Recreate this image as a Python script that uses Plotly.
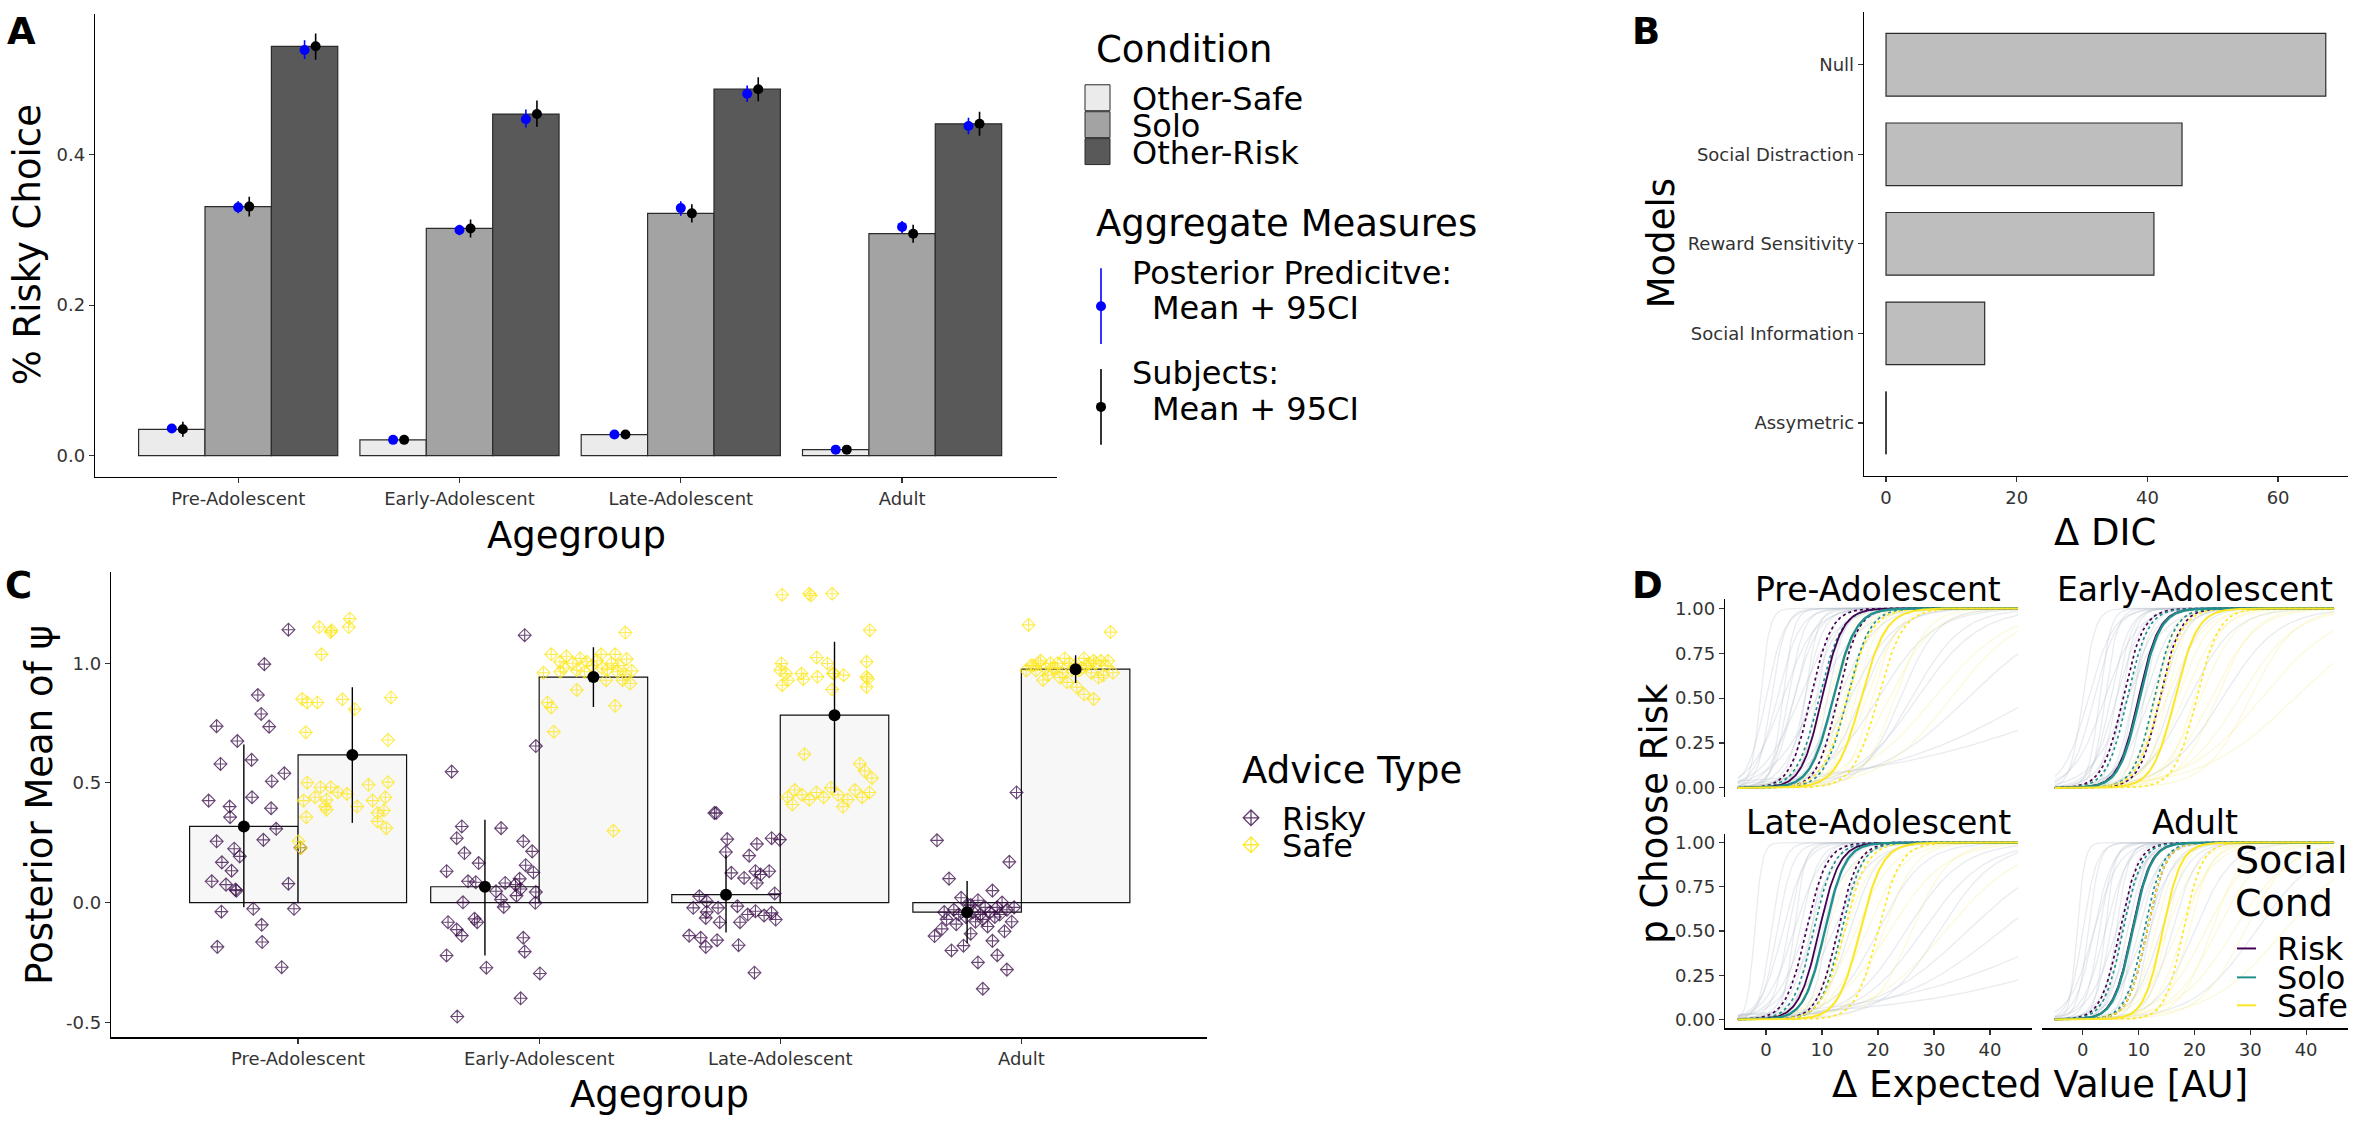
import numpy as np
import plotly.graph_objects as go

W, H = 2356, 1121
FONT = "DejaVu Sans"

# ---------------- Panel A data ----------------
age_groups = ["Pre-Adolescent", "Early-Adolescent", "Late-Adolescent", "Adult"]
conditions = ["Other-Safe", "Solo", "Other-Risk"]
cond_colors = ["#EBEBEB", "#A3A3A3", "#595959"]

bar_other_safe = [0.035, 0.021, 0.028, 0.008]
bar_solo = [0.331, 0.302, 0.322, 0.295]
bar_other_risk = [0.544, 0.454, 0.487, 0.441]

pp_safe_mean = [0.036, 0.021, 0.028, 0.008]
pp_safe_lo = [0.032, 0.018, 0.025, 0.006]
pp_safe_hi = [0.040, 0.024, 0.031, 0.010]
pp_solo_mean = [0.330, 0.300, 0.329, 0.304]
pp_solo_lo = [0.322, 0.293, 0.319, 0.296]
pp_solo_hi = [0.338, 0.307, 0.338, 0.312]
pp_risk_mean = [0.539, 0.447, 0.481, 0.438]
pp_risk_lo = [0.527, 0.436, 0.470, 0.427]
pp_risk_hi = [0.552, 0.460, 0.492, 0.449]

subj_safe_mean = [0.035, 0.021, 0.028, 0.008]
subj_safe_lo = [0.025, 0.017, 0.024, 0.005]
subj_safe_hi = [0.045, 0.025, 0.032, 0.011]
subj_solo_mean = [0.331, 0.302, 0.322, 0.295]
subj_solo_lo = [0.318, 0.290, 0.310, 0.283]
subj_solo_hi = [0.344, 0.314, 0.334, 0.307]
subj_risk_mean = [0.544, 0.454, 0.487, 0.441]
subj_risk_lo = [0.526, 0.437, 0.471, 0.425]
subj_risk_hi = [0.561, 0.472, 0.503, 0.457]

# ---------------- Panel B data ----------------
models = ["Null", "Social Distraction", "Reward Sensitivity", "Social Information", "Assymetric"]
delta_dic = [67.3, 45.3, 41.0, 15.1, 0.0]

# ---------------- Panel C data ----------------
psi_risky_mean = [0.318, 0.066, 0.033, -0.040]
psi_risky_lo = [-0.02, -0.221, -0.125, -0.170]
psi_risky_hi = [0.66, 0.346, 0.200, 0.090]
psi_safe_mean = [0.617, 0.942, 0.783, 0.975]
psi_safe_lo = [0.333, 0.817, 0.460, 0.917]
psi_safe_hi = [0.900, 1.067, 1.090, 1.033]

pre_risky_jit = [-0.04, -0.14, -0.167, -0.153, -0.12, -0.338, -0.252, -0.322, -0.371, -0.284, -0.282, -0.193, -0.191, -0.109, -0.112, -0.057, -0.091, -0.338, -0.265, -0.242, -0.316, -0.276, -0.358, -0.299, -0.26, -0.256, -0.144, 0.01, -0.04, -0.318, -0.186, -0.017, -0.151, -0.149, -0.335, -0.068]
pre_risky_val = [1.14, 0.996, 0.867, 0.788, 0.735, 0.737, 0.675, 0.579, 0.426, 0.401, 0.357, 0.596, 0.44, 0.507, 0.394, 0.54, 0.308, 0.256, 0.225, 0.193, 0.168, 0.133, 0.089, 0.075, 0.054, 0.05, 0.262, 0.229, 0.079, -0.038, -0.026, -0.026, -0.093, -0.165, -0.185, -0.27]
pre_safe_jit = [0.087, 0.139, 0.135, 0.214, 0.21, 0.097, 0.017, 0.038, 0.08, 0.184, 0.235, 0.385, 0.032, 0.373, 0.038, 0.093, 0.135, 0.165, 0.203, 0.292, 0.373, 0.023, 0.07, 0.118, 0.112, 0.118, 0.245, 0.309, 0.362, 0.356, 0.33, 0.33, 0.366, 0.034, 0.002, 0.012]
pre_safe_val = [1.151, 1.137, 1.13, 1.186, 1.151, 1.037, 0.85, 0.836, 0.836, 0.849, 0.808, 0.857, 0.711, 0.679, 0.501, 0.482, 0.482, 0.461, 0.454, 0.492, 0.503, 0.426, 0.44, 0.429, 0.401, 0.388, 0.401, 0.426, 0.44, 0.385, 0.374, 0.339, 0.311, 0.357, 0.256, 0.228]

early_risky_jit = [-0.06, -0.014, -0.363, -0.321, -0.342, -0.31, -0.251, -0.384, -0.158, -0.066, -0.029, -0.056, -0.024, -0.081, -0.295, -0.263, -0.141, -0.179, -0.098, -0.077, -0.014, -0.094, -0.158, -0.316, -0.016, -0.147, -0.268, -0.257, -0.378, -0.342, -0.321, -0.066, -0.06, -0.384, -0.219, 0.003, -0.077, -0.34]
early_risky_val = [1.117, 0.654, 0.547, 0.318, 0.269, 0.207, 0.165, 0.131, 0.311, 0.256, 0.214, 0.156, 0.126, 0.099, 0.089, 0.085, 0.082, 0.047, 0.075, 0.057, 0.044, 0.029, 0.013, 0.001, -0.001, -0.018, -0.068, -0.082, -0.082, -0.113, -0.138, -0.147, -0.205, -0.221, -0.272, -0.296, -0.4, -0.476]
early_safe_jit = [0.357, 0.05, 0.113, 0.086, 0.257, 0.315, 0.363, 0.198, 0.018, 0.088, 0.156, 0.188, 0.283, 0.325, 0.357, 0.384, 0.378, 0.346, 0.278, 0.156, 0.035, 0.05, 0.315, 0.061, 0.308, 0.22, 0.26, 0.14, 0.30, 0.10, 0.24, 0.33, 0.17]
early_safe_val = [1.128, 1.037, 1.029, 1.006, 1.037, 1.037, 1.017, 1.006, 0.96, 0.964, 0.971, 0.964, 0.974, 0.964, 0.954, 0.968, 0.915, 0.929, 0.929, 0.888, 0.836, 0.815, 0.822, 0.714, 0.30, 0.99, 0.98, 1.0, 1.0, 0.98, 1.01, 0.99, 1.02]

late_risky_jit = [-0.273, -0.266, -0.22, -0.226, -0.129, -0.097, -0.036, -0.002, -0.203, -0.15, -0.103, -0.082, -0.097, -0.046, -0.023, -0.336, -0.305, -0.361, -0.258, -0.178, -0.305, -0.309, -0.251, -0.167, -0.135, -0.103, -0.067, -0.036, -0.019, -0.378, -0.33, -0.309, -0.262, -0.173, -0.107]
late_risky_val = [0.374, 0.374, 0.265, 0.211, 0.196, 0.245, 0.269, 0.263, 0.124, 0.103, 0.131, 0.117, 0.082, 0.131, 0.038, 0.026, 0.005, -0.022, -0.022, -0.015, -0.039, -0.064, -0.082, -0.082, -0.05, -0.036, -0.054, -0.043, -0.071, -0.138, -0.147, -0.185, -0.157, -0.178, -0.293]
late_safe_jit = [0.008, 0.12, 0.127, 0.215, 0.371, 0.151, 0.196, 0.005, 0.0, 0.024, 0.088, 0.096, 0.154, 0.223, 0.263, 0.358, 0.358, 0.363, 0.008, 0.032, 0.358, 0.215, 0.219, 0.03, 0.06, 0.09, 0.12, 0.15, 0.18, 0.21, 0.24, 0.28, 0.31, 0.34, 0.37, 0.05, 0.26, 0.35, 0.33, 0.10, 0.38]
late_safe_val = [1.286, 1.29, 1.283, 1.29, 1.138, 1.024, 0.999, 0.999, 0.971, 0.957, 0.957, 0.933, 0.943, 0.957, 0.95, 1.006, 0.943, 0.935, 0.908, 0.929, 0.901, 0.89, 0.957, 0.44, 0.47, 0.45, 0.43, 0.46, 0.44, 0.48, 0.45, 0.43, 0.47, 0.44, 0.46, 0.41, 0.40, 0.55, 0.58, 0.62, 0.52]

adult_risky_jit = [-0.02, -0.35, -0.05, -0.30, -0.12, -0.25, -0.18, -0.08, -0.22, -0.15, -0.10, -0.28, -0.06, -0.20, -0.13, -0.26, -0.17, -0.09, -0.23, -0.11, -0.31, -0.16, -0.04, -0.19, -0.27, -0.14, -0.33, -0.07, -0.21, -0.36, -0.12, -0.24, -0.29, -0.10, -0.18, -0.06, -0.16, -0.03, -0.32, -0.21]
adult_risky_val = [0.46, 0.26, 0.17, 0.10, 0.05, 0.02, 0.01, 0.0, -0.01, -0.02, -0.02, -0.03, -0.03, -0.04, -0.04, -0.05, -0.05, -0.05, -0.06, -0.06, -0.07, -0.07, -0.08, -0.08, -0.09, -0.10, -0.11, -0.12, -0.13, -0.14, -0.16, -0.18, -0.20, -0.22, -0.25, -0.28, -0.36, -0.02, -0.04, -0.01]
adult_safe_jit = [0.03, 0.37, 0.08, 0.30, 0.12, 0.20, 0.26, 0.05, 0.15, 0.33, 0.10, 0.22, 0.28, 0.18, 0.35, 0.02, 0.13, 0.24, 0.31, 0.07, 0.17, 0.27, 0.36, 0.11, 0.21, 0.29, 0.04, 0.16, 0.25, 0.34, 0.09, 0.19, 0.32, 0.14, 0.23, 0.06, 0.38, 0.26, 0.30]
adult_safe_val = [1.16, 1.13, 1.01, 1.01, 1.00, 1.00, 1.02, 0.99, 1.00, 1.01, 0.98, 0.99, 1.00, 1.02, 0.99, 0.97, 0.98, 0.97, 1.00, 1.00, 0.96, 0.99, 1.01, 0.95, 0.97, 0.96, 0.99, 0.94, 0.98, 0.95, 0.93, 0.92, 0.94, 0.98, 0.90, 0.97, 0.96, 0.87, 0.85]

# ---------------- Panel D data (logistic fits: midpoint, slope) ----------------
risk_mid = [10.0, 10.0, 9.5, 8.8]
risk_slope = [0.55, 0.55, 0.55, 0.6]
solo_mid = [12.0, 10.2, 10.5, 8.9]
solo_slope = [0.5, 0.55, 0.55, 0.6]
safe_mid = [17.0, 16.5, 16.8, 14.3]
safe_slope = [0.45, 0.5, 0.5, 0.6]
risk_ci_lo = [8.0, 7.2, 7.2, 6.6]
risk_ci_hi = [12.8, 13.8, 12.8, 11.5]
solo_ci_lo = [9.5, 8.0, 8.5, 7.2]
solo_ci_hi = [14.5, 12.8, 13.5, 11.0]
safe_ci_lo = [14.5, 13.8, 14.0, 11.5]
safe_ci_hi = [20.0, 20.4, 20.0, 18.0]

pre_bg_mid = [-1, 1, 2, 3, 4, 5, 6, 7, 8, 9, 10, 11, 12, 13, 14, 15, 16, 17, 18, 20, 22, 24, 27, 30, 36, 48, 60, 0, 3, 5, 7, 9, 11, 13, 15, 19, 23, 26, 33]
pre_bg_slope = [1.2, 0.8, 0.5, 0.35, 0.7, 0.45, 0.3, 0.6, 0.4, 0.25, 0.5, 0.35, 0.45, 0.3, 0.4, 0.25, 0.5, 0.3, 0.35, 0.2, 0.25, 0.3, 0.18, 0.15, 0.12, 0.07, 0.05, 0.6, 1.0, 0.55, 0.9, 0.7, 0.65, 0.8, 0.6, 0.45, 0.35, 0.22, 0.16]
pre_bg_kind = [0, 0, 0, 0, 0, 0, 0, 0, 0, 0, 0, 1, 0, 0, 1, 0, 1, 0, 1, 0, 1, 0, 0, 1, 0, 0, 0, 0, 0, 0, 0, 0, 0, 1, 1, 1, 1, 0, 1]
early_bg_mid = [0, 2, 3, 4, 5, 6, 7, 8, 8, 9, 10, 11, 12, 13, 14, 15, 16, 17, 18, 19, 21, 23, 25, 28, 32, 38, 1, 4, 6, 9, 11, 13, 15, 20, 24, 30]
early_bg_slope = [0.9, 0.5, 1.0, 0.35, 0.6, 0.45, 0.8, 0.4, 0.3, 0.6, 0.5, 0.4, 0.35, 0.5, 0.45, 0.3, 0.4, 0.35, 0.3, 0.25, 0.3, 0.25, 0.2, 0.2, 0.15, 0.12, 0.45, 0.9, 0.7, 0.8, 0.7, 0.6, 0.55, 0.4, 0.3, 0.25]
early_bg_kind = [0, 0, 0, 0, 0, 0, 0, 0, 0, 0, 0, 0, 0, 1, 0, 1, 0, 1, 1, 0, 1, 1, 0, 1, 1, 1, 0, 0, 0, 0, 0, 1, 1, 1, 1, 1]
late_bg_mid = [-2, 1, 3, 4, 5, 6, 7, 8, 9, 10, 11, 12, 13, 14, 15, 16, 18, 20, 22, 25, 28, 32, 36, 42, 55, 70, 2, 5, 8, 11, 14, 17, 21, 26, 31]
late_bg_slope = [1.5, 0.9, 0.5, 0.7, 0.4, 0.6, 0.35, 0.5, 0.3, 0.45, 0.4, 0.3, 0.5, 0.35, 0.4, 0.3, 0.3, 0.25, 0.2, 0.2, 0.18, 0.15, 0.12, 0.1, 0.06, 0.05, 0.7, 1.0, 0.8, 0.7, 0.6, 0.5, 0.35, 0.3, 0.2]
late_bg_kind = [0, 0, 0, 0, 0, 0, 0, 0, 0, 0, 1, 0, 0, 1, 0, 1, 1, 0, 1, 0, 0, 1, 0, 0, 0, 0, 0, 0, 0, 0, 1, 1, 1, 1, 0]
adult_bg_mid = [-1, 1, 2, 3, 4, 5, 6, 6, 7, 8, 9, 10, 11, 12, 13, 14, 15, 16, 17, 18, 20, 22, 24, 27, 31, 36, 0, 2, 4, 7, 9, 12, 15, 19, 23, 29]
adult_bg_slope = [1.5, 1.0, 0.6, 0.8, 0.5, 0.7, 0.4, 0.9, 0.5, 0.6, 0.4, 0.5, 0.35, 0.45, 0.5, 0.4, 0.35, 0.45, 0.3, 0.4, 0.3, 0.25, 0.25, 0.2, 0.18, 0.15, 0.8, 0.45, 1.1, 0.75, 0.9, 0.7, 0.6, 0.5, 0.35, 0.25]
adult_bg_kind = [0, 0, 0, 0, 0, 0, 0, 0, 0, 0, 0, 0, 0, 0, 1, 0, 1, 0, 1, 1, 0, 1, 1, 1, 0, 1, 0, 0, 0, 0, 0, 0, 1, 1, 1, 1]

risk_col, solo_col, safe_col = "#440154", "#21908C", "#FDE725"

# ---------------- helpers ----------------
def xdom(a, b):
    return [a / W, b / W]


def ydom(top, bot):
    return [1 - bot / H, 1 - top / H]


def pxx(x):
    return x / W


def pyy(y):
    return 1 - y / H


fig = go.Figure()

# ---------------- Panel A ----------------
bar_vals = [bar_other_safe, bar_solo, bar_other_risk]
pp_sets = [(pp_safe_mean, pp_safe_lo, pp_safe_hi), (pp_solo_mean, pp_solo_lo, pp_solo_hi),
           (pp_risk_mean, pp_risk_lo, pp_risk_hi)]
subj_sets = [(subj_safe_mean, subj_safe_lo, subj_safe_hi), (subj_solo_mean, subj_solo_lo, subj_solo_hi),
             (subj_risk_mean, subj_risk_lo, subj_risk_hi)]
idx = np.arange(len(age_groups))
for j, cond in enumerate(conditions):
    pos = idx + (j - 1) * 0.3
    fig.add_trace(go.Bar(x=pos, y=bar_vals[j], width=0.3, marker=dict(color=cond_colors[j], line=dict(color="#2b2b2b", width=1.2)),
                         xaxis="x", yaxis="y", name=cond, hoverinfo="skip"))
for j in range(3):
    pos = idx + (j - 1) * 0.3
    m, lo, hi = [np.array(a) for a in pp_sets[j]]
    fig.add_trace(go.Scatter(x=pos, y=m, mode="markers", marker=dict(color="#0000FF", size=10),
                             error_y=dict(type="data", symmetric=False, array=hi - m, arrayminus=m - lo, color="#0000FF", thickness=1.6, width=0),
                             xaxis="x", yaxis="y", hoverinfo="skip"))
    m, lo, hi = [np.array(a) for a in subj_sets[j]]
    fig.add_trace(go.Scatter(x=pos + 0.05, y=m, mode="markers", marker=dict(color="#000000", size=10),
                             error_y=dict(type="data", symmetric=False, array=hi - m, arrayminus=m - lo, color="#000000", thickness=1.6, width=0),
                             xaxis="x", yaxis="y", hoverinfo="skip"))

# ---------------- Panel B ----------------
fig.add_trace(go.Bar(y=list(range(len(models))), x=delta_dic, orientation="h", width=0.7,
                     marker=dict(color="#BEBEBE", line=dict(color="#2b2b2b", width=1.2)), xaxis="x2", yaxis="y2", hoverinfo="skip"))
for i, v in enumerate(delta_dic):
    if v == 0:
        fig.add_trace(go.Scatter(x=[v, v], y=[i - 0.35, i + 0.35], mode="lines", line=dict(color="#2b2b2b", width=1.4),
                                 xaxis="x2", yaxis="y2", hoverinfo="skip"))

# ---------------- Panel C ----------------
fig.add_trace(go.Bar(x=idx - 0.225, y=psi_risky_mean, width=0.45, marker=dict(color="#F7F7F7", line=dict(color="#111111", width=1.2)),
                     xaxis="x3", yaxis="y3", hoverinfo="skip"))
fig.add_trace(go.Bar(x=idx + 0.225, y=psi_safe_mean, width=0.45, marker=dict(color="#F7F7F7", line=dict(color="#111111", width=1.2)),
                     xaxis="x3", yaxis="y3", hoverinfo="skip"))
risky_groups = [(pre_risky_jit, pre_risky_val), (early_risky_jit, early_risky_val), (late_risky_jit, late_risky_val), (adult_risky_jit, adult_risky_val)]
safe_groups = [(pre_safe_jit, pre_safe_val), (early_safe_jit, early_safe_val), (late_safe_jit, late_safe_val), (adult_safe_jit, adult_safe_val)]
for g in range(4):
    jx, vy = risky_groups[g]
    fig.add_trace(go.Scatter(x=g + np.array(jx), y=vy, mode="markers",
                             marker=dict(symbol="diamond-cross-open", size=10, color="rgba(55,10,70,0.75)", line=dict(width=1.1)),
                             xaxis="x3", yaxis="y3", hoverinfo="skip"))
for g in range(4):
    jx, vy = safe_groups[g]
    fig.add_trace(go.Scatter(x=g + np.array(jx), y=vy, mode="markers",
                             marker=dict(symbol="diamond-cross-open", size=10, color="rgba(253,231,37,0.8)", line=dict(width=1.1)),
                             xaxis="x3", yaxis="y3", hoverinfo="skip"))
for off, m, lo, hi in [(-0.225, psi_risky_mean, psi_risky_lo, psi_risky_hi), (0.225, psi_safe_mean, psi_safe_lo, psi_safe_hi)]:
    m, lo, hi = np.array(m), np.array(lo), np.array(hi)
    fig.add_trace(go.Scatter(x=idx + off, y=m, mode="markers", marker=dict(color="#000000", size=12),
                             error_y=dict(type="data", symmetric=False, array=hi - m, arrayminus=m - lo, color="#000000", thickness=1.4, width=0),
                             xaxis="x3", yaxis="y3", hoverinfo="skip"))

# ---------------- Panel D ----------------
ev_grid = np.linspace(-5, 45, 251)


def logistic(x, mid, slope):
    return 1.0 / (1.0 + np.exp(-slope * (x - mid)))


bg_sets = [(pre_bg_mid, pre_bg_slope, pre_bg_kind), (early_bg_mid, early_bg_slope, early_bg_kind),
           (late_bg_mid, late_bg_slope, late_bg_kind), (adult_bg_mid, adult_bg_slope, adult_bg_kind)]
bg_colors = ["rgba(185,192,205,0.32)", "rgba(246,238,150,0.35)"]
facet_axes = [("x4", "y4"), ("x5", "y5"), ("x6", "y6"), ("x7", "y7")]
for f in range(4):
    xa, ya = facet_axes[f]
    mids, slopes, kinds = bg_sets[f]
    for mid, sl, k in zip(mids, slopes, kinds):
        fig.add_trace(go.Scatter(x=ev_grid, y=logistic(ev_grid, mid, sl), mode="lines",
                                 line=dict(color=bg_colors[k], width=1.3), xaxis=xa, yaxis=ya, hoverinfo="skip"))
    for lo_m, hi_m, sl, col in [(risk_ci_lo[f], risk_ci_hi[f], risk_slope[f], risk_col),
                                (solo_ci_lo[f], solo_ci_hi[f], solo_slope[f], solo_col),
                                (safe_ci_lo[f], safe_ci_hi[f], safe_slope[f], safe_col)]:
        for mm in (lo_m, hi_m):
            fig.add_trace(go.Scatter(x=ev_grid, y=logistic(ev_grid, mm, sl), mode="lines",
                                     line=dict(color=col, width=1.7, dash="dot"), xaxis=xa, yaxis=ya, hoverinfo="skip"))
    for mid, sl, col, wd in [(risk_mid[f], risk_slope[f], risk_col, 1.8), (solo_mid[f], solo_slope[f], solo_col, 2.4),
                             (safe_mid[f], safe_slope[f], safe_col, 2.0)]:
        fig.add_trace(go.Scatter(x=ev_grid, y=logistic(ev_grid, mid, sl), mode="lines",
                                 line=dict(color=col, width=wd), xaxis=xa, yaxis=ya, hoverinfo="skip"))

# ---------------- legend keys (overlay pixel axis) ----------------
fig.add_trace(go.Scatter(x=[1101, 1101], y=[267, 343], mode="lines", line=dict(color="#0000FF", width=1.6), xaxis="x8", yaxis="y8", hoverinfo="skip"))
fig.add_trace(go.Scatter(x=[1101], y=[305], mode="markers", marker=dict(color="#0000FF", size=10), xaxis="x8", yaxis="y8", hoverinfo="skip"))
fig.add_trace(go.Scatter(x=[1101, 1101], y=[368, 444], mode="lines", line=dict(color="#000000", width=1.6), xaxis="x8", yaxis="y8", hoverinfo="skip"))
fig.add_trace(go.Scatter(x=[1101], y=[406], mode="markers", marker=dict(color="#000000", size=10), xaxis="x8", yaxis="y8", hoverinfo="skip"))
fig.add_trace(go.Scatter(x=[1251], y=[818], mode="markers", marker=dict(symbol="diamond-cross-open", size=12, color="rgba(55,10,70,0.8)", line=dict(width=1.3)),
                         xaxis="x8", yaxis="y8", hoverinfo="skip"))
fig.add_trace(go.Scatter(x=[1251], y=[845], mode="markers", marker=dict(symbol="diamond-cross-open", size=12, color="rgba(253,231,37,0.9)", line=dict(width=1.3)),
                         xaxis="x8", yaxis="y8", hoverinfo="skip"))
for yy, col in [(949, risk_col), (978, solo_col), (1006, safe_col)]:
    fig.add_trace(go.Scatter(x=[2237, 2256], y=[yy, yy], mode="lines", line=dict(color=col, width=2), xaxis="x8", yaxis="y8", hoverinfo="skip"))

shapes = []
for j, col in enumerate(cond_colors):
    y0 = 83 + j * 27
    shapes.append(dict(type="rect", xref="paper", yref="paper", x0=pxx(1085), x1=pxx(1110), y0=pyy(y0), y1=pyy(y0 + 26),
                       fillcolor=col, line=dict(color="#2b2b2b", width=1)))

# ---------------- annotations ----------------
anns = []


def ann(text, x, y, size, xanchor="center", yanchor="middle", angle=0, bold=False, color="#000000"):
    t = f"<b>{text}</b>" if bold else text
    anns.append(dict(text=t, x=pxx(x), y=pyy(y), xref="paper", yref="paper", showarrow=False, xanchor=xanchor, yanchor=yanchor,
                     textangle=angle, font=dict(family=FONT, size=size, color=color)))


ann("A", 5, 6, 37, "left", "top", bold=True)
ann("B", 1630, 6, 37, "left", "top", bold=True)
ann("C", 3, 562, 37, "left", "top", bold=True)
ann("D", 1630, 562, 37, "left", "top", bold=True)

ann("% Risky Choice", 27, 244, 37, angle=-90)
ann("Agegroup", 576, 535, 37)
ann("Models", 1661, 242, 37, angle=-90)
ann("Δ DIC", 2105, 532, 37)
ann("Posterior Mean of ψ", 40, 805, 37, angle=-90)
ann("Agegroup", 659, 1095, 37)
ann("p Choose Risk", 1655, 814, 37, angle=-90)
ann("Δ Expected Value [AU]", 2040, 1085, 37)

ann("Pre-Adolescent", 1878, 589, 33)
ann("Early-Adolescent", 2195, 589, 33)
ann("Late-Adolescent", 1878, 823, 33)
ann("Adult", 2195, 823, 33)

ann("Condition", 1094, 48, 37, "left")
for j, cond in enumerate(conditions):
    ann(cond, 1130, 97 + j * 27, 32, "left")
ann("Aggregate Measures", 1094, 222, 37, "left")
ann("Posterior Predicitve:", 1130, 272, 32, "left")
ann("Mean + 95CI", 1150, 307, 32, "left")
ann("Subjects:", 1130, 372, 32, "left")
ann("Mean + 95CI", 1150, 408, 32, "left")

ann("Advice Type", 1240, 771, 37, "left")
ann("Risky", 1280, 819, 32, "left")
ann("Safe", 1280, 846, 32, "left")

ann("Social", 2233, 860, 38, "left")
ann("Cond", 2233, 903, 38, "left")
ann("Risk", 2275, 950, 32, "left")
ann("Solo", 2275, 979, 32, "left")
ann("Safe", 2275, 1007, 32, "left")

# ---------------- axes ----------------
tickfont = dict(family=FONT, size=18, color="#333333")
base = dict(showgrid=False, zeroline=False, ticks="outside", ticklen=5, tickwidth=1.2, tickcolor="#333333",
            linecolor="#000000", linewidth=1.3, showline=True, tickfont=tickfont)
noax = dict(showgrid=False, zeroline=False, showline=False, showticklabels=False, ticks="")

layout = dict(
    width=W, height=H, margin=dict(l=0, r=0, t=0, b=0), paper_bgcolor="white", plot_bgcolor="rgba(0,0,0,0)",
    showlegend=False, barmode="overlay", font=dict(family=FONT),
    xaxis=dict(base, domain=xdom(95, 1057), anchor="y", range=[-0.647, 3.70], tickvals=list(idx), ticktext=age_groups),
    yaxis=dict(base, domain=ydom(12, 476), anchor="x", range=[-0.028, 0.587], tickvals=[0, 0.2, 0.4], ticktext=["0.0", "0.2", "0.4"]),
    xaxis2=dict(base, domain=xdom(1864, 2348), anchor="y2", range=[-3.37, 70.7], tickvals=[0, 20, 40, 60]),
    yaxis2=dict(base, domain=ydom(10, 475), anchor="x2", range=[4.59, -0.59], tickvals=list(range(len(models))), ticktext=models),
    xaxis3=dict(base, domain=xdom(111, 1207), anchor="y3", range=[-0.776, 3.77], tickvals=list(idx), ticktext=age_groups),
    yaxis3=dict(base, domain=ydom(572, 1038), anchor="x3", range=[-0.5625, 1.379], tickvals=[-0.5, 0, 0.5, 1.0], ticktext=["-0.5", "0.0", "0.5", "1.0"]),
    xaxis8=dict(noax, domain=[0, 1], anchor="y8", range=[0, W], fixedrange=True),
    yaxis8=dict(noax, domain=[0, 1], anchor="x8", range=[H, 0], fixedrange=True),
    shapes=shapes, annotations=anns,
)
d_xdoms = [xdom(1725, 2032), xdom(2042, 2348), xdom(1725, 2032), xdom(2042, 2348)]
d_ydoms = [ydom(599, 797), ydom(599, 797), ydom(834, 1029), ydom(834, 1029)]
ytv = [0, 0.25, 0.5, 0.75, 1.0]
ytt = ["0.00", "0.25", "0.50", "0.75", "1.00"]
for f in range(4):
    n = f + 4
    bottom = f >= 2
    left = f % 2 == 0
    xa = dict(base, domain=d_xdoms[f], anchor=f"y{n}", range=[-7.3, 47.5], tickvals=[0, 10, 20, 30, 40]) if bottom else \
        dict(noax, domain=d_xdoms[f], anchor=f"y{n}", range=[-7.3, 47.5])
    ya = dict(base, domain=d_ydoms[f], anchor=f"x{n}", range=[-0.05, 1.05], tickvals=ytv, ticktext=ytt) if left else \
        dict(noax, domain=d_ydoms[f], anchor=f"x{n}", range=[-0.05, 1.05])
    layout[f"xaxis{n}"] = xa
    layout[f"yaxis{n}"] = ya

fig.update_layout(**layout)
fig.write_html("out.html", config={"displayModeBar": False, "staticPlot": True},
               post_script="document.body.style.margin='0px';document.body.style.overflow='hidden';")
